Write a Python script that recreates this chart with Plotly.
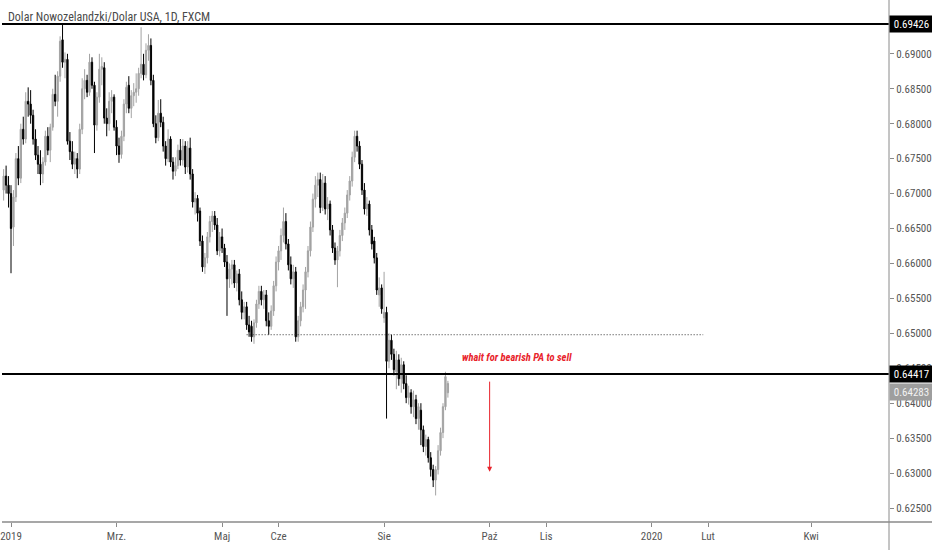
import pandas as pd
import plotly.graph_objects as go

# NZD/USD daily candles (Dec 2018 - Sep 2019)
opens = [
    0.6705, 0.6725, 0.6712, 0.6700, 0.6652, 0.6695, 0.6750, 0.6722, 0.6792, 0.6778,
    0.6832, 0.6828, 0.6812, 0.6778, 0.6755, 0.6742, 0.6728, 0.6745, 0.6782, 0.6762,
    0.6795, 0.6842, 0.6832, 0.6868, 0.6920, 0.6888, 0.6892, 0.6775, 0.6760, 0.6742,
    0.6750, 0.6735, 0.6792, 0.6850, 0.6862, 0.6845, 0.6888, 0.6855, 0.6798, 0.6838,
    0.6878, 0.6880, 0.6808, 0.6800, 0.6832, 0.6838, 0.6795, 0.6768, 0.6756, 0.6782,
    0.6828, 0.6855, 0.6822, 0.6840, 0.6845, 0.6850, 0.6872, 0.6885, 0.6870, 0.6905,
    0.6912, 0.6862, 0.6800, 0.6780, 0.6815, 0.6802, 0.6768, 0.6750, 0.6778, 0.6745,
    0.6732, 0.6740, 0.6762, 0.6748, 0.6768, 0.6738, 0.6765, 0.6728, 0.6688, 0.6693,
    0.6675, 0.6632, 0.6595, 0.6608, 0.6638, 0.6660, 0.6668, 0.6655, 0.6618, 0.6638,
    0.6622, 0.6602, 0.6578, 0.6592, 0.6598, 0.6572, 0.6585, 0.6548, 0.6530, 0.6538,
    0.6512, 0.6510, 0.6495, 0.6515, 0.6542, 0.6560, 0.6548, 0.6555, 0.6518, 0.6510,
    0.6532, 0.6568, 0.6602, 0.6618, 0.6640, 0.6660, 0.6628, 0.6598, 0.6578, 0.6588,
    0.6495, 0.6518, 0.6538, 0.6562, 0.6588, 0.6618, 0.6652, 0.6692, 0.6712, 0.6720,
    0.6680, 0.6715, 0.6678, 0.6685, 0.6648, 0.6622, 0.6605, 0.6618, 0.6640, 0.6658,
    0.6672, 0.6698, 0.6718, 0.6752, 0.6782, 0.6768, 0.6742, 0.6705, 0.6678, 0.6685,
    0.6648, 0.6632, 0.6608, 0.6555, 0.6565, 0.6522, 0.6530, 0.6460, 0.6490, 0.6470,
    0.6445, 0.6462, 0.6435, 0.6455, 0.6428, 0.6408, 0.6415, 0.6395, 0.6405, 0.6378,
    0.6390, 0.6362, 0.6338, 0.6348, 0.6322, 0.6305, 0.6290, 0.6305, 0.6332, 0.6358,
    0.6395, 0.6415,
]
highs = [
    0.6735, 0.6740, 0.6725, 0.6712, 0.6705, 0.6758, 0.6768, 0.6800, 0.6810, 0.6845,
    0.6852, 0.6848, 0.6820, 0.6792, 0.6768, 0.6762, 0.6752, 0.6790, 0.6795, 0.6800,
    0.6850, 0.6870, 0.6875, 0.6925, 0.6942, 0.6902, 0.6900, 0.6788, 0.6775, 0.6760,
    0.6758, 0.6800, 0.6865, 0.6878, 0.6870, 0.6900, 0.6895, 0.6860, 0.6845, 0.6900,
    0.6895, 0.6888, 0.6822, 0.6845, 0.6848, 0.6842, 0.6805, 0.6780, 0.6790, 0.6835,
    0.6860, 0.6868, 0.6848, 0.6858, 0.6872, 0.6880, 0.6938, 0.6900, 0.6915, 0.6928,
    0.6922, 0.6870, 0.6812, 0.6834, 0.6835, 0.6810, 0.6775, 0.6792, 0.6782, 0.6752,
    0.6752, 0.6770, 0.6778, 0.6778, 0.6775, 0.6775, 0.6780, 0.6735, 0.6702, 0.6698,
    0.6680, 0.6640, 0.6615, 0.6645, 0.6668, 0.6675, 0.6675, 0.6665, 0.6645, 0.6650,
    0.6628, 0.6612, 0.6600, 0.6605, 0.6605, 0.6590, 0.6592, 0.6560, 0.6545, 0.6545,
    0.6525, 0.6518, 0.6520, 0.6548, 0.6568, 0.6568, 0.6562, 0.6562, 0.6530, 0.6540,
    0.6575, 0.6610, 0.6625, 0.6650, 0.6680, 0.6672, 0.6635, 0.6610, 0.6598, 0.6595,
    0.6525, 0.6545, 0.6570, 0.6595, 0.6625, 0.6660, 0.6700, 0.6725, 0.6730, 0.6730,
    0.6728, 0.6725, 0.6695, 0.6690, 0.6655, 0.6630, 0.6625, 0.6648, 0.6665, 0.6680,
    0.6705, 0.6725, 0.6760, 0.6790, 0.6790, 0.6775, 0.6748, 0.6715, 0.6695, 0.6690,
    0.6655, 0.6638, 0.6615, 0.6580, 0.6570, 0.6588, 0.6538, 0.6500, 0.6498, 0.6478,
    0.6475, 0.6470, 0.6465, 0.6460, 0.6440, 0.6425, 0.6420, 0.6418, 0.6412, 0.6400,
    0.6400, 0.6368, 0.6355, 0.6352, 0.6330, 0.6312, 0.6310, 0.6340, 0.6365, 0.6400,
    0.6445, 0.6432,
]
lows = [
    0.6690, 0.6700, 0.6680, 0.6586, 0.6625, 0.6688, 0.6712, 0.6715, 0.6770, 0.6772,
    0.6810, 0.6800, 0.6770, 0.6748, 0.6728, 0.6712, 0.6715, 0.6740, 0.6755, 0.6745,
    0.6790, 0.6825, 0.6810, 0.6860, 0.6880, 0.6865, 0.6770, 0.6748, 0.6735, 0.6728,
    0.6722, 0.6728, 0.6785, 0.6835, 0.6838, 0.6840, 0.6850, 0.6758, 0.6790, 0.6830,
    0.6855, 0.6800, 0.6782, 0.6790, 0.6815, 0.6790, 0.6755, 0.6744, 0.6750, 0.6775,
    0.6815, 0.6815, 0.6808, 0.6825, 0.6830, 0.6840, 0.6865, 0.6862, 0.6865, 0.6890,
    0.6855, 0.6795, 0.6772, 0.6775, 0.6795, 0.6760, 0.6740, 0.6745, 0.6738, 0.6720,
    0.6725, 0.6735, 0.6740, 0.6740, 0.6728, 0.6730, 0.6720, 0.6680, 0.6670, 0.6660,
    0.6625, 0.6588, 0.6585, 0.6600, 0.6630, 0.6645, 0.6648, 0.6612, 0.6610, 0.6615,
    0.6595, 0.6525, 0.6565, 0.6570, 0.6565, 0.6560, 0.6540, 0.6520, 0.6520, 0.6505,
    0.6495, 0.6488, 0.6485, 0.6508, 0.6535, 0.6540, 0.6535, 0.6510, 0.6498, 0.6505,
    0.6525, 0.6560, 0.6590, 0.6605, 0.6630, 0.6620, 0.6590, 0.6570, 0.6565, 0.6488,
    0.6488, 0.6510, 0.6530, 0.6535, 0.6580, 0.6610, 0.6645, 0.6680, 0.6695, 0.6672,
    0.6675, 0.6670, 0.6662, 0.6640, 0.6615, 0.6598, 0.6566, 0.6610, 0.6632, 0.6648,
    0.6665, 0.6690, 0.6710, 0.6745, 0.6760, 0.6735, 0.6698, 0.6670, 0.6668, 0.6640,
    0.6620, 0.6600, 0.6555, 0.6538, 0.6528, 0.6515, 0.6378, 0.6450, 0.6462, 0.6440,
    0.6420, 0.6425, 0.6415, 0.6420, 0.6400, 0.6398, 0.6385, 0.6380, 0.6370, 0.6362,
    0.6340, 0.6330, 0.6325, 0.6315, 0.6295, 0.6280, 0.6268, 0.6298, 0.6325, 0.6350,
    0.6390, 0.6408,
]
closes = [
    0.6725, 0.6712, 0.6700, 0.6650, 0.6695, 0.6750, 0.6722, 0.6792, 0.6778, 0.6832,
    0.6828, 0.6812, 0.6778, 0.6755, 0.6742, 0.6728, 0.6745, 0.6782, 0.6762, 0.6795,
    0.6842, 0.6832, 0.6868, 0.6918, 0.6888, 0.6892, 0.6775, 0.6760, 0.6742, 0.6750,
    0.6735, 0.6792, 0.6850, 0.6862, 0.6845, 0.6888, 0.6855, 0.6798, 0.6838, 0.6878,
    0.6882, 0.6808, 0.6800, 0.6832, 0.6838, 0.6795, 0.6768, 0.6756, 0.6782, 0.6828,
    0.6852, 0.6822, 0.6840, 0.6845, 0.6850, 0.6872, 0.6885, 0.6870, 0.6905, 0.6912,
    0.6862, 0.6800, 0.6780, 0.6815, 0.6802, 0.6768, 0.6750, 0.6778, 0.6745, 0.6732,
    0.6740, 0.6762, 0.6748, 0.6768, 0.6738, 0.6765, 0.6728, 0.6688, 0.6693, 0.6672,
    0.6632, 0.6595, 0.6608, 0.6638, 0.6660, 0.6668, 0.6655, 0.6618, 0.6638, 0.6622,
    0.6602, 0.6578, 0.6592, 0.6598, 0.6572, 0.6585, 0.6548, 0.6530, 0.6538, 0.6512,
    0.6502, 0.6495, 0.6515, 0.6542, 0.6560, 0.6548, 0.6555, 0.6518, 0.6510, 0.6532,
    0.6568, 0.6602, 0.6618, 0.6640, 0.6660, 0.6628, 0.6598, 0.6578, 0.6588, 0.6495,
    0.6518, 0.6538, 0.6562, 0.6588, 0.6618, 0.6652, 0.6692, 0.6712, 0.6720, 0.6680,
    0.6715, 0.6678, 0.6685, 0.6648, 0.6622, 0.6605, 0.6618, 0.6640, 0.6658, 0.6672,
    0.6698, 0.6718, 0.6752, 0.6782, 0.6768, 0.6742, 0.6705, 0.6678, 0.6685, 0.6648,
    0.6628, 0.6608, 0.6562, 0.6565, 0.6535, 0.6530, 0.6460, 0.6490, 0.6470, 0.6448,
    0.6462, 0.6435, 0.6455, 0.6428, 0.6408, 0.6415, 0.6395, 0.6405, 0.6378, 0.6395,
    0.6362, 0.6338, 0.6348, 0.6322, 0.6305, 0.6290, 0.6305, 0.6332, 0.6358, 0.6395,
    0.6438, 0.64283,
]
dates = pd.bdate_range("2018-12-27", periods=len(closes))

tick_dates = ["2019-01-01", "2019-03-01", "2019-05-01", "2019-06-03", "2019-08-01",
              "2019-10-01", "2019-11-01", "2020-01-01", "2020-02-03", "2020-04-01"]
tick_labels = ["2019", "Mrz.", "Maj", "Cze", "Sie", "Paź", "Lis", "2020", "Lut", "Kwi"]
price_ticks = [0.625, 0.630, 0.635, 0.640, 0.645, 0.650, 0.655,
               0.660, 0.665, 0.670, 0.675, 0.680, 0.685, 0.690]

top_level = 0.69426
key_level = 0.64417
old_support = 0.6498
last_price = 0.64283

FONT = "Liberation Sans Narrow, Arial Narrow, Roboto Condensed, sans-serif"

fig = go.Figure(go.Candlestick(
    x=dates, open=opens, high=highs, low=lows, close=closes,
    increasing=dict(line=dict(color="#a3a3a3", width=1), fillcolor="#a3a3a3"),
    decreasing=dict(line=dict(color="#000000", width=1), fillcolor="#000000"),
    hoverinfo="skip",
))

# horizontal levels
for lvl in (top_level, key_level):
    fig.add_shape(type="line", xref="paper", yref="y", x0=0, x1=1, y0=lvl, y1=lvl,
                  line=dict(color="#000000", width=2))
fig.add_shape(type="line", xref="x", yref="y", x0="2019-05-15", x1="2020-01-30",
              y0=old_support, y1=old_support,
              line=dict(color="#333333", width=1, dash="1px,2px"))

# axis frame lines running into the margins
fig.add_shape(type="line", xref="paper", yref="paper", x0=1, x1=1, y0=-0.06, y1=1,
              line=dict(color="#8a8a8a", width=1))
fig.add_shape(type="line", xref="paper", yref="paper", x0=0, x1=1.05, y0=0, y1=0,
              line=dict(color="#8a8a8a", width=1.5))

# price boxes on the right scale (the last-price box is pushed below the level box)
for val, bg, fg, shift in ((top_level, "#000000", "#ffffff", 0),
                           (key_level, "#000000", "#ffffff", 0),
                           (last_price, "#9e9e9e", "#f2f2f2", -9)):
    fig.add_annotation(x=1, xref="paper", y=val, yref="y", xanchor="left", yanchor="middle",
                       yshift=shift, text=f"{val:.5f}", showarrow=False, bgcolor=bg, width=40,
                       height=13, borderpad=1.5, font=dict(family=FONT, size=11, color=fg))

fig.add_annotation(x=0, xref="paper", y=1, yref="paper", xanchor="left", yanchor="top",
                   xshift=4, yshift=-8, text="Dolar Nowozelandzki/Dolar USA, 1D, FXCM",
                   showarrow=False, font=dict(family=FONT, size=12, color="#4a4a4a"))

fig.add_annotation(x="2019-10-16", y=0.6466, text="<b><i>whait for bearish PA to sell</i></b>",
                   showarrow=False, font=dict(family=FONT, size=10.5, color="#e8232b"))
fig.add_annotation(x="2019-10-01", y=0.6302, ax="2019-10-01", ay=0.6433, axref="x", ayref="y",
                   text="", showarrow=True, arrowhead=2, arrowsize=1, arrowwidth=1,
                   arrowcolor="#e8232b")

fig.update_layout(
    width=932, height=550,
    margin=dict(l=0, r=42, t=0, b=28),
    paper_bgcolor="#ffffff", plot_bgcolor="#ffffff",
    showlegend=False,
    boxgap=0.25,
    xaxis=dict(
        rangeslider=dict(visible=False),
        rangebreaks=[dict(bounds=["sat", "mon"])],
        range=["2018-12-26 08:00", "2020-05-14 17:00"],
        tickvals=tick_dates, ticktext=tick_labels,
        ticks="outside", ticklen=4, tickcolor="#8a8a8a",
        ticklabeloverflow="allow",
        showgrid=False, zeroline=False, showline=False,
        tickfont=dict(family=FONT, size=11, color="#555555"),
    ),
    yaxis=dict(
        side="right", range=[0.6230, 0.6977],
        tickvals=price_ticks, tickformat=".5f",
        ticks="outside", ticklen=4, tickcolor="#8a8a8a",
        ticklabeloverflow="allow",
        showgrid=False, zeroline=False, showline=False,
        tickfont=dict(family=FONT, size=11, color="#555555"),
    ),
)

fig.write_html("out.html", config={"displayModeBar": False},
               post_script="document.body.style.margin='0';")
